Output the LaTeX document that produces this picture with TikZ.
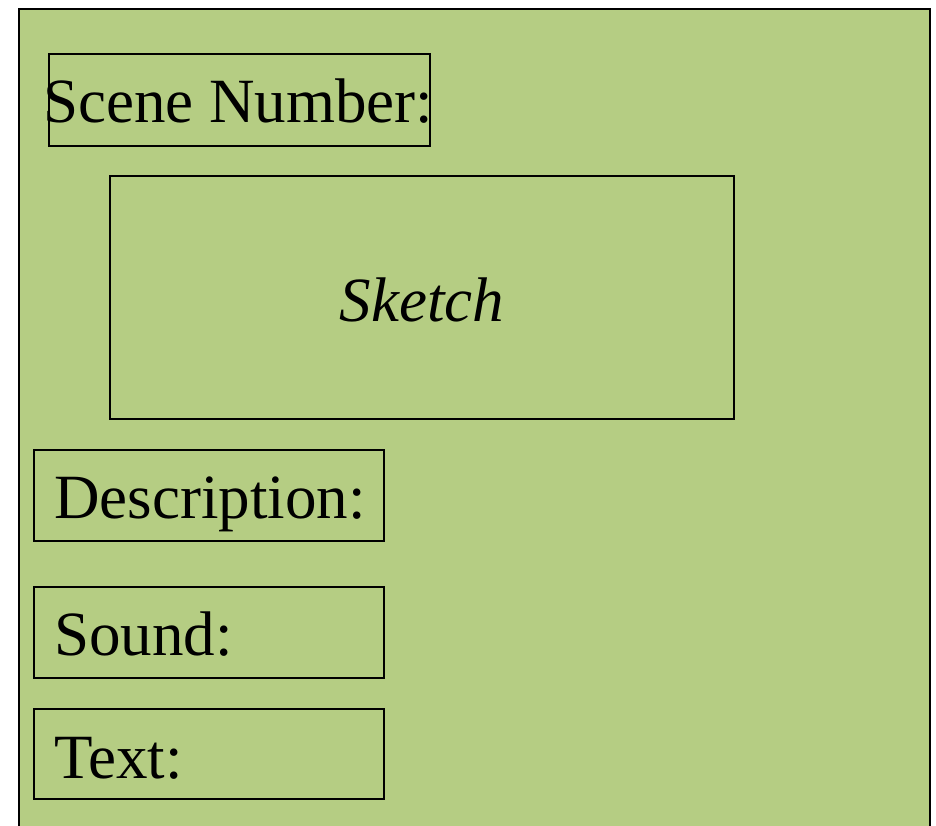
\documentclass[tikz,border=0pt]{standalone}
\usepackage{fontspec}
\setmainfont{Liberation Serif}
\definecolor{panelgreen}{RGB}{181,205,131}
\begin{document}
\begin{tikzpicture}[x=1pt,y=-1pt,
  frame/.style={draw=black,line width=2pt,inner sep=0pt,outer sep=0pt},
  label/.style={font=\fontsize{63}{70}\selectfont,inner sep=0pt,anchor=base west}]
\useasboundingbox (0,0) rectangle (936,826);
\begin{scope}
\clip (0,0) rectangle (936,826);
\fill[panelgreen] (19,9) rectangle (930,840);
\draw[line width=2pt] (19,840) -- (19,9) -- (930,9) -- (930,840);
\end{scope}
\node[frame,minimum width=381pt,minimum height=92pt] (scenebox) at (239.5,100) {};
\node[frame,minimum width=624pt,minimum height=243pt] (sketchbox) at (422,297.5) {};
\node[frame,minimum width=350pt,minimum height=91pt] (descbox) at (209,495.5) {};
\node[frame,minimum width=350pt,minimum height=91pt] (soundbox) at (209,632.5) {};
\node[frame,minimum width=350pt,minimum height=90pt] (textbox) at (209,754) {};
\node[label] (scenetxt) at (43,123) {Scene Number:};
\node[font=\fontsize{63}{70}\selectfont\itshape,inner sep=0pt,anchor=base] (sketchtxt) at (422,321) {Sketch};
\node[label] (desctxt) at (54,518) {Description:};
\node[label] (soundtxt) at (54,655) {Sound:};
\node[label] (texttxt) at (54,778) {Text:};
\end{tikzpicture}
\end{document}
